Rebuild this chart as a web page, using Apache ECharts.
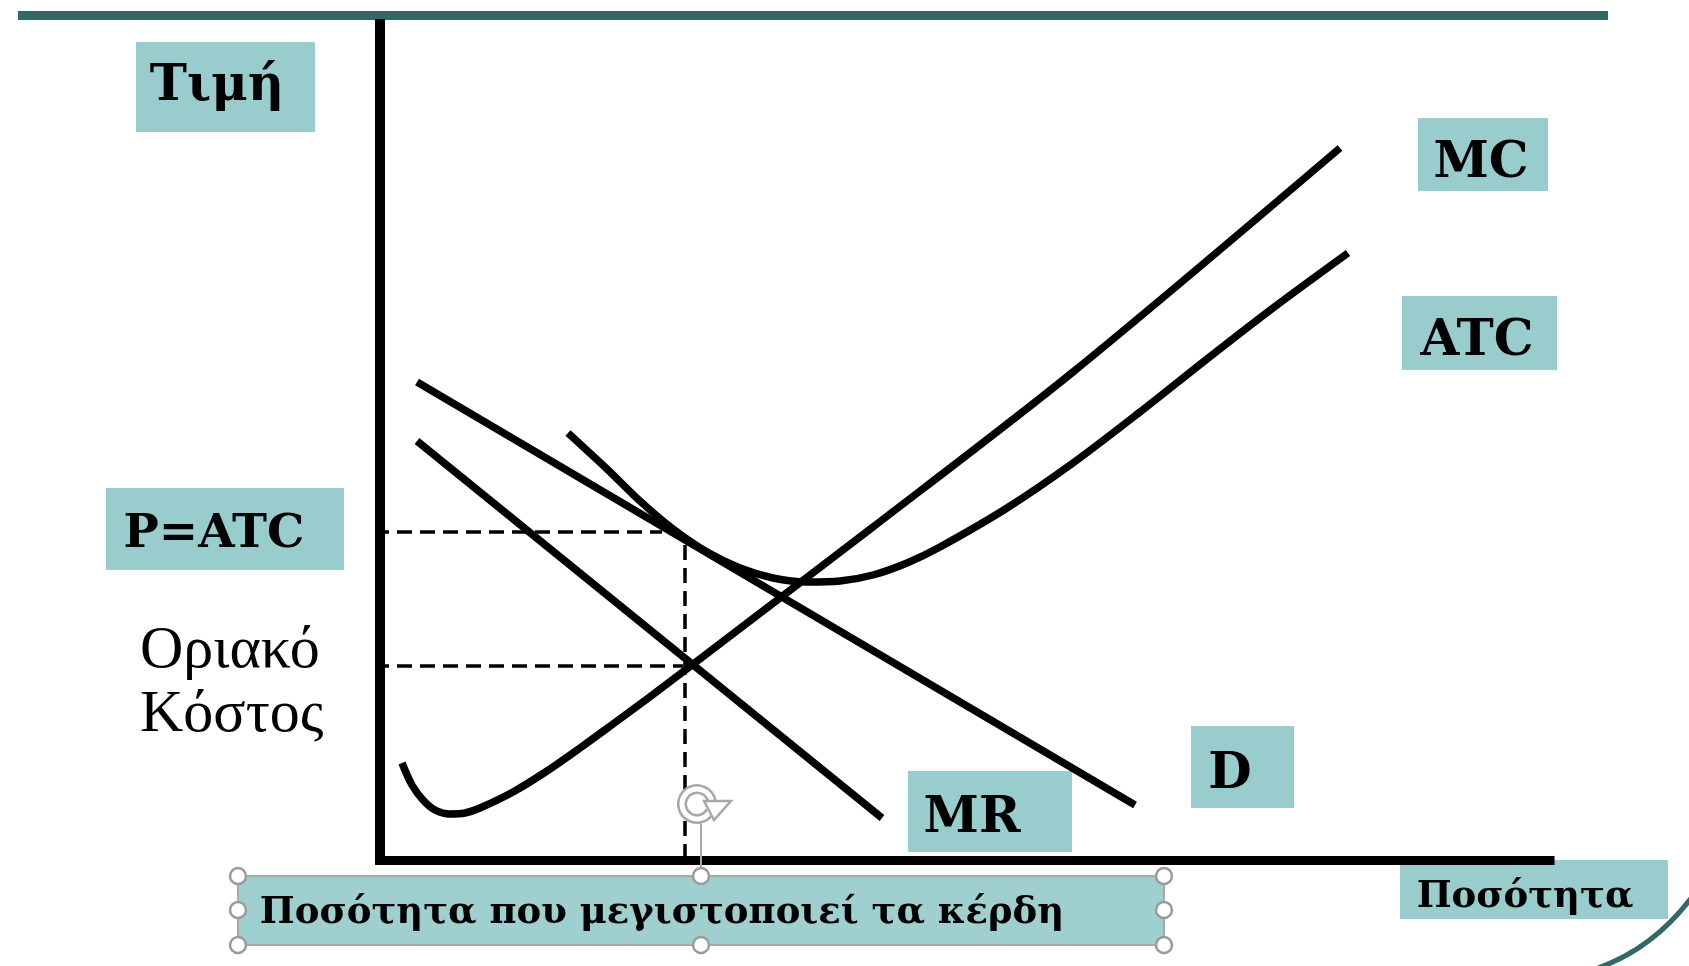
<!DOCTYPE html>
<html><head><meta charset="utf-8">
<script src="https://cdn.jsdelivr.net/npm/echarts@6/dist/echarts.min.js"></script>
<style>html,body{margin:0;padding:0;background:#fff}#c{width:1689px;height:966px}</style>
</head><body><div id="c"></div>
<script>
// ---- data (quantity on x, price/cost on y) ----
const demandD = [[3.7, 47.8], [75.5, 5.5]];
const marginalRevenueMR = [[3.7, 41.9], [50.2, 4.2]];
const marginalCostMC = [
  [2.2, 9.7], [3.2, 7.5], [4.3, 6.0], [5.5, 5.0], [7.0, 4.6], [8.5, 4.7],
  [10.0, 5.2], [13.3, 6.8], [16.7, 8.9], [20.0, 11.2], [23.3, 13.6],
  [26.7, 16.1], [31.2, 19.5], [49.3, 33.3], [69.3, 48.8], [96.0, 71.2]
];
const averageTotalCostATC = [
  [18.8, 42.7], [22.7, 39.1], [26.0, 35.9], [29.3, 33.1], [32.7, 30.8],
  [36.0, 29.2], [39.3, 28.2], [42.7, 27.8], [46.0, 27.9], [49.3, 28.5],
  [52.7, 29.7], [56.0, 31.3], [62.7, 35.2], [69.3, 39.7], [76.0, 44.8],
  [82.7, 50.1], [89.3, 55.2], [96.8, 60.7]
];
const priceEqualsAtcGuide = [[-0.6, 32.8], [28.2, 32.8]];
const marginalCostGuide = [[-0.6, 19.4], [30.3, 19.4]];
const profitMaxQuantityGuide = [[30.5, 31.5], [30.5, 0]];
const curveNames = ['MC', 'ATC', 'D', 'MR'];
const axisTitles = ['Τιμή', 'Ποσότητα'];
const levelLabels = ['P=ATC', 'Οριακό', 'Κόστος'];
const quantityLabel = ['Ποσότητα που μεγιστοποιεί τα κέρδη'];

// ---- chart ----
const chart = echarts.init(document.getElementById('c'), null, {renderer: 'canvas'});
const BOX = '#99cccc', TEAL = '#326866', BOLD = 'bold 50px "DejaVu Serif"';

function solid(name, data, smooth, w) {
  return {name, type: 'line', data, smooth, symbol: 'none', clip: false, z: 5,
    lineStyle: {color: '#000', width: w, cap: 'butt', join: 'round'}};
}
function dashed(data) {
  return {type: 'line', data, symbol: 'none', clip: false, z: 3,
    lineStyle: {color: '#000', width: 3.5, type: [15, 8]}};
}
function box(x, y, w, h, text, tx, ty, font, fill) {
  return {type: 'group', children: [
    {type: 'rect', shape: {x, y, width: w, height: h}, style: {fill: fill || BOX}},
    {type: 'text', x: tx, y: ty, style: {text, font: font || BOLD, fill: '#000', align: 'center', verticalAlign: 'middle'}}
  ]};
}
const handles = [[238, 876], [238, 910], [238, 945], [701, 876], [701, 945], [1164, 876], [1164, 910], [1164, 945]]
  .map(p => ({type: 'circle', shape: {cx: p[0], cy: p[1], r: 8}, style: {fill: '#fff', stroke: '#9a9a9a', lineWidth: 2.5}, z: 20}));

chart.setOption({
  animation: false,
  backgroundColor: '#fff',
  grid: {left: 380, right: 139, top: 24, bottom: 106},
  xAxis: {type: 'value', min: 0, max: 117, axisLine: {show: true, onZero: false, lineStyle: {color: '#000', width: 9, cap: 'square'}},
    axisTick: {show: false}, axisLabel: {show: false}, splitLine: {show: false}},
  yAxis: {type: 'value', min: 0, max: 83.6, axisLine: {show: true, onZero: false, lineStyle: {color: '#000', width: 10, cap: 'square'}},
    axisTick: {show: false}, axisLabel: {show: false}, splitLine: {show: false}},
  series: [
    dashed(priceEqualsAtcGuide), dashed(marginalCostGuide), dashed(profitMaxQuantityGuide),
    solid(curveNames[2], demandD, false, 7.5),
    solid(curveNames[3], marginalRevenueMR, false, 7.5),
    solid(curveNames[0], marginalCostMC, 0.3, 7.5),
    solid(curveNames[1], averageTotalCostATC, 0.3, 7.5)
  ],
  graphic: [
    {type: 'rect', shape: {x: 18, y: 11, width: 1590, height: 9}, style: {fill: TEAL}},
    {type: 'bezierCurve', shape: {x1: 1598, y1: 968, cpx1: 1655, cpy1: 948, x2: 1695, y2: 893}, style: {stroke: TEAL, lineWidth: 5, fill: null}},
    box(136, 42, 179, 90, axisTitles[0], 217, 87),
    box(1418, 118, 130, 73, curveNames[0], 1481, 164),
    box(1402, 296, 155, 74, curveNames[1], 1477, 342),
    box(106, 488, 238, 82, levelLabels[0], 214, 535, 'bold 47px "DejaVu Serif"'),
    box(1191, 726, 103, 82, curveNames[2], 1230, 775),
    box(908, 771, 164, 81, curveNames[3], 972, 819),
    box(1400, 860, 268, 59, axisTitles[1], 1525, 897, 'bold 37px "DejaVu Serif"'),
    {type: 'text', x: 140, y: 621, style: {text: levelLabels[1], font: '60px "Liberation Serif"', fill: '#000', align: 'left', verticalAlign: 'top'}},
    {type: 'text', x: 140, y: 685, style: {text: levelLabels[2], font: '60px "Liberation Serif"', fill: '#000', align: 'left', verticalAlign: 'top'}},
    {type: 'rect', shape: {x: 238, y: 876, width: 926, height: 69}, style: {fill: '#9fcfcf', stroke: '#a8a8a8', lineWidth: 2}, z: 10},
    {type: 'text', x: 662, y: 913, z: 11, style: {text: quantityLabel[0], font: 'bold 37px "DejaVu Serif"', fill: '#000', align: 'center', verticalAlign: 'middle'}},
    {type: 'line', shape: {x1: 701, y1: 824, x2: 701, y2: 868}, style: {stroke: '#a8a8a8', lineWidth: 2}, z: 12},
    {type: 'arc', shape: {cx: 697, cy: 804, r: 15, startAngle: 0.5, endAngle: 2 * Math.PI - 0.2, clockwise: true}, style: {stroke: '#a8a8a8', lineWidth: 10, fill: null}, z: 12},
    {type: 'arc', shape: {cx: 697, cy: 804, r: 15, startAngle: 0.5, endAngle: 2 * Math.PI - 0.2, clockwise: true}, style: {stroke: '#fff', lineWidth: 5, fill: null}, z: 13},
    {type: 'polygon', shape: {points: [[704, 801], [731, 801], [714, 820]]}, style: {fill: '#fff', stroke: '#a8a8a8', lineWidth: 2.5}, z: 13},
    ...handles
  ]
});
</script></body></html>
